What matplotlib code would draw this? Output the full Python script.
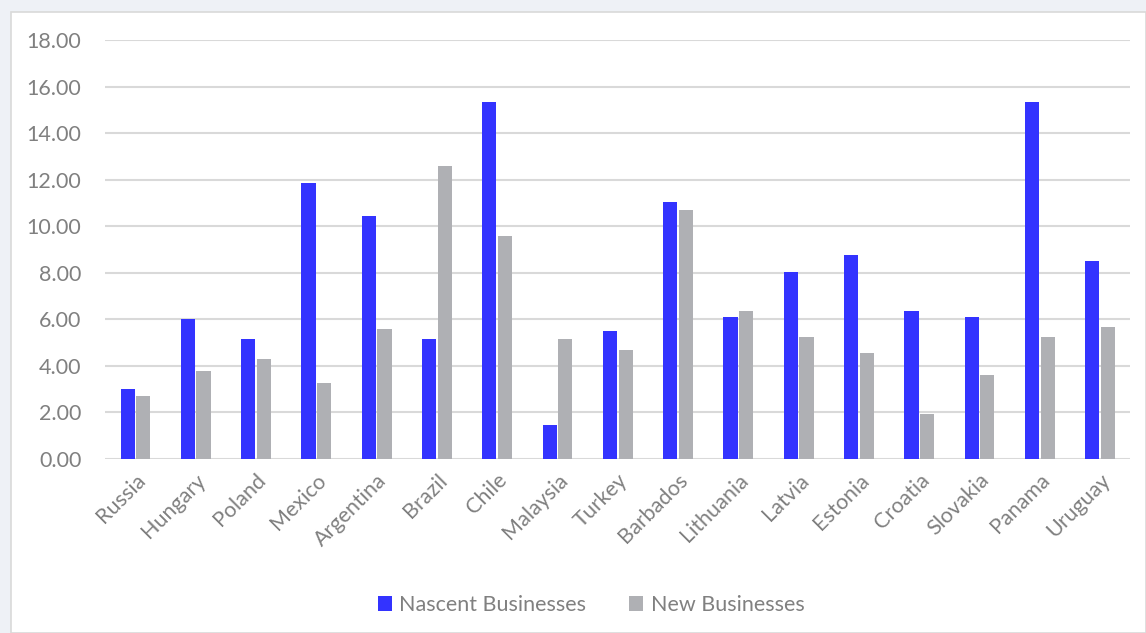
import matplotlib.pyplot as plt
import numpy as np
from matplotlib.patches import Rectangle

countries = ["Russia", "Hungary", "Poland", "Mexico", "Argentina", "Brazil", "Chile",
             "Malaysia", "Turkey", "Barbados", "Lithuania", "Latvia", "Estonia",
             "Croatia", "Slovakia", "Panama", "Uruguay"]
nascent = [3.0, 6.0, 5.15, 11.85, 10.45, 5.15, 15.35, 1.45, 5.5, 11.05, 6.1, 8.05,
           8.75, 6.35, 6.1, 15.35, 8.5]
new_biz = [2.7, 3.8, 4.3, 3.25, 5.6, 12.6, 9.6, 5.15, 4.7, 10.7, 6.35, 5.25,
           4.55, 1.95, 3.6, 5.25, 5.65]
yticks = np.arange(0, 19, 2)

plt.rcParams['font.family'] = ['Lato', 'DejaVu Sans']
txt = '#808080'

fig = plt.figure(figsize=(11.46, 6.33), dpi=100)
fig.patch.set_facecolor('#eef1f6')
# white chart box behind the axes
box = Rectangle((11 / 1146, 0), 1 - 11 / 1146, 1 - 12 / 633,
                transform=fig.transFigure, facecolor='white',
                edgecolor='#d9d9d9', lw=1.2, zorder=-10)
fig.add_artist(box)

ax = fig.add_axes([105 / 1146, 1 - 459 / 633, (1130 - 105) / 1146, (459 - 40) / 633])
ax.set_facecolor('none')
x = np.arange(len(countries))
w = 0.235
ax.bar(x - 0.125, nascent, w, color='#3333ff', label='Nascent Businesses', zorder=3)
ax.bar(x + 0.135, new_biz, w, color='#afb0b4', label='New Businesses', zorder=3)

ax.set_xlim(-0.5, len(countries) - 0.5)
ax.set_ylim(0, 18)
ax.set_yticks(yticks)
ax.set_yticklabels([f"{v:.2f}" for v in yticks], color=txt, fontsize=15.5)
ax.set_xticks(x)
ax.set_xticklabels(countries, rotation=45, ha='right', rotation_mode='anchor',
                   color=txt, fontsize=15.5)
ax.tick_params(length=0)
ax.tick_params(axis='y', pad=17)
ax.tick_params(axis='x', pad=8)
ax.grid(axis='y', color='#d9d9d9', lw=1.5, zorder=0)
for s in ax.spines.values():
    s.set_visible(False)

leg = ax.legend(loc='center', bbox_to_anchor=(591 / 1146, 1 - 605 / 633),
                bbox_transform=fig.transFigure, ncol=2, frameon=False,
                fontsize=15.5, handlelength=0.65, handleheight=0.65,
                columnspacing=2.0, handletextpad=0.35)
for t in leg.get_texts():
    t.set_color(txt)

fig.savefig('out.png', dpi=100)
